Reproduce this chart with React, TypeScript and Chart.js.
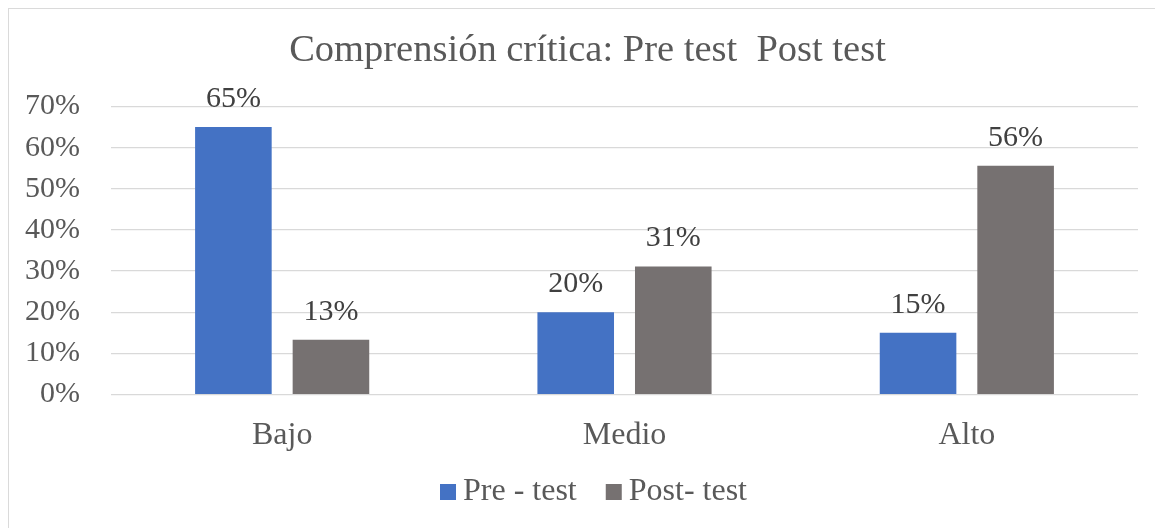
import React, { useEffect, useRef } from "react";
import { Chart, registerables } from "chart.js";

Chart.register(...registerables);

const chartTitle = "Comprensión crítica: Pre test  Post test";
const categories = ["Bajo", "Medio", "Alto"];
const seriesNames = ["Pre - test", "Post- test"];
const preTest = [0.65, 0.2, 0.15];
const postTest = [0.133, 0.311, 0.556];
const seriesColors = ["#4472C4", "#767171"];
const yMin = 0;
const yMax = 0.7;
const yStep = 0.1;

const FONT = "'Liberation Serif', 'Times New Roman', serif";

const pct = (v: number) => Math.round(v * 100) + "%";

const titleShiftPlugin = {
  id: "titleShift",
  afterLayout(chart: any) {
    const t = chart.titleBlock;
    if (t) {
      t.left += 12;
      t.width = t.right - t.left;
    }
  },
};

const dataLabelPlugin = {
  id: "dataLabels",
  afterDatasetsDraw(chart: any) {
    const ctx = chart.ctx;
    ctx.save();
    ctx.font = `30px ${FONT}`;
    ctx.fillStyle = "#404040";
    ctx.textAlign = "center";
    ctx.textBaseline = "middle";
    chart.data.datasets.forEach((ds: any, i: number) => {
      const meta = chart.getDatasetMeta(i);
      meta.data.forEach((bar: any, j: number) => {
        ctx.fillText(pct(ds.data[j]), bar.x, bar.y - 28);
      });
    });
    ctx.restore();
  },
};

const legendPlugin = {
  id: "customLegend",
  afterDraw(chart: any) {
    const ctx = chart.ctx;
    ctx.save();
    ctx.font = `32px ${FONT}`;
    ctx.textBaseline = "middle";
    ctx.textAlign = "left";
    const box = 16;
    const gapText = 7;
    const gapItem = 29;
    const items = chart.data.datasets.map((ds: any) => ({
      label: ds.label,
      color: ds.backgroundColor,
      w: ctx.measureText(ds.label).width,
    }));
    let total = 0;
    items.forEach((it: any, i: number) => {
      total += box + gapText + it.w + (i < items.length - 1 ? gapItem : 0);
    });
    let x = chart.width / 2 + 7 - total / 2;
    const cy = 483;
    items.forEach((it: any) => {
      ctx.fillStyle = it.color;
      ctx.fillRect(x, cy - box / 2, box, box);
      x += box + gapText;
      ctx.fillStyle = "#595959";
      ctx.fillText(it.label, x, cy);
      x += it.w + gapItem;
    });
    ctx.restore();
  },
};

export default function App() {
  const ref = useRef<HTMLCanvasElement | null>(null);

  useEffect(() => {
    if (!ref.current) return;
    const chart = new Chart(ref.current, {
      type: "bar",
      data: {
        labels: categories,
        datasets: [
          {
            label: seriesNames[0],
            data: preTest,
            backgroundColor: seriesColors[0],
            categoryPercentage: 0.57,
            barPercentage: 0.785,
          },
          {
            label: seriesNames[1],
            data: postTest,
            backgroundColor: seriesColors[1],
            categoryPercentage: 0.57,
            barPercentage: 0.785,
          },
        ],
      },
      options: {
        responsive: false,
        animation: false,
        layout: { padding: { left: 16, right: 26, top: 0, bottom: 52 } },
        plugins: {
          legend: { display: false },
          tooltip: { enabled: false },
          title: {
            display: true,
            text: chartTitle,
            color: "#595959",
            font: { family: FONT, size: 38.5, weight: "normal" },
            padding: { top: 19, bottom: 32.3 },
          },
        },
        scales: {
          x: {
            grid: { display: false, drawTicks: false },
            border: { display: false },
            ticks: {
              color: "#595959",
              font: { family: FONT, size: 32 },
              padding: 22,
            },
          },
          y: {
            min: yMin,
            max: yMax,
            grid: { color: "#d9d9d9", lineWidth: 1.3, drawTicks: false },
            border: { display: false },
            afterFit: (scale: any) => {
              scale.width = 86;
            },
            ticks: {
              stepSize: yStep,
              autoSkip: false,
              color: "#595959",
              font: { family: FONT, size: 30 },
              padding: 31,
              callback: (v: any) => pct(Number(v)),
            },
          },
        },
      },
      plugins: [titleShiftPlugin, dataLabelPlugin, legendPlugin],
    });
    return () => chart.destroy();
  }, []);

  return (
    <div
      style={{
        margin: "-1px 0 0 -1px",
        borderTop: "2px solid #dadada",
        borderLeft: "2px solid #dadada",
        width: 1157,
        height: 522,
      }}
    >
      <canvas ref={ref} width={1155} height={520} style={{ display: "block" }} />
    </div>
  );
}
